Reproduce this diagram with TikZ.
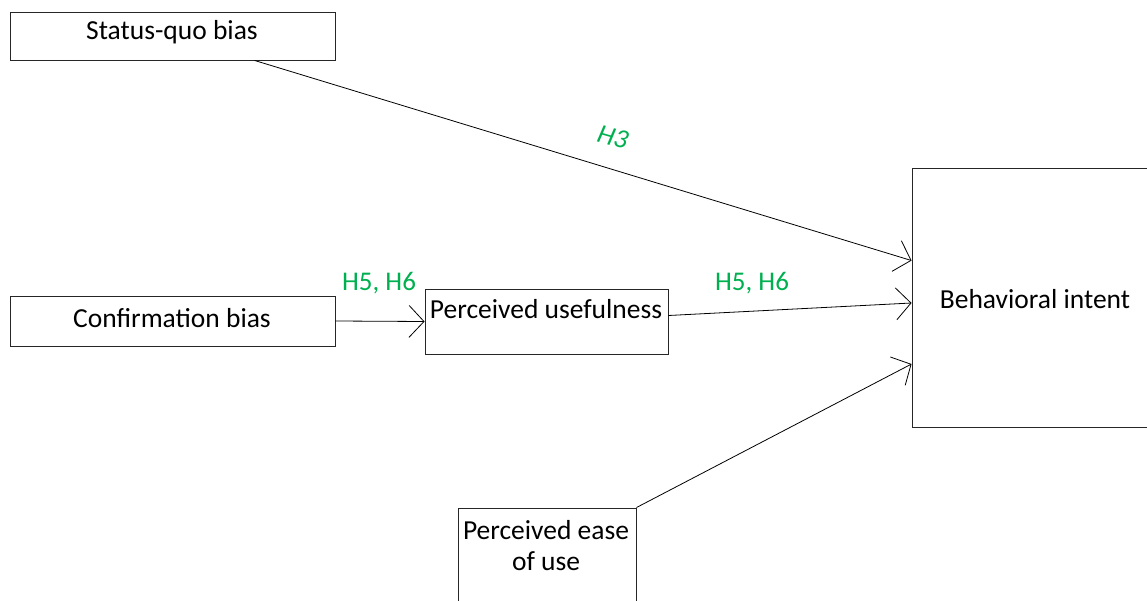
\documentclass[tikz,border=0pt]{standalone}
\usepackage{fontspec}
\setmainfont{Carlito}
\usetikzlibrary{arrows.meta,calc}
\definecolor{hypgreen}{HTML}{00B050}
\begin{document}
\begin{tikzpicture}[x=1pt,y=-1pt,
  box/.style={draw=black!85,line width=0.9pt,rectangle,inner sep=0pt},
  lbl/.style={font=\fontsize{27.5}{31}\selectfont,inner sep=0pt,align=center},
  hyp/.style={font=\fontsize{27}{31}\selectfont,text=hypgreen,inner sep=0pt},
  link/.style={draw=black,line width=0.8pt,-{Straight Barb[length=15pt,width=32pt,line width=0.8pt]}}]
\useasboundingbox (0,0) rectangle (1147,601);
% boxes
\node[box,minimum width=325pt,minimum height=48pt] (sq) at (172.5,36) {};
\node[box,minimum width=325pt,minimum height=50pt] (cb) at (172.5,321) {};
\node[box,minimum width=243pt,minimum height=65pt] (pu) at (546.5,321.5) {};
\node[box,minimum width=248pt,minimum height=259pt] (bi) at (1036,297.5) {};
\node[box,minimum width=178pt,minimum height=112pt] (peou) at (547,564) {};
% box texts
\node[lbl] (sqt) at (172,32) {Status-quo bias};
\node[lbl] (cbt) at (172,318) {Confirmation bias};
\node[lbl] (put) at (546,309) {Perceived usefulness};
\node[lbl] (bit) at (1035,299) {Behavioral intent};
\node[lbl] (peout) at (546,546) {Perceived ease\\of use};
% connectors
\draw[link] ($(sq.south west)+(245,0)$) -- ($(bi.north west)+(0,93)$);
\draw[link] (cb.east) -- (pu.west);
\draw[link] ($(pu.east)+(0,-6)$) -- ($(bi.west)+(0,5.5)$);
\draw[link] (peou.north east) -- ($(bi.west)+(0,66.5)$);
% hypothesis labels
\node[hyp,rotate=-16,font=\fontsize{27}{31}\selectfont\itshape] (h3) at (613,137) {H3};
\node[hyp] (h56a) at (379,283) {H5, H6};
\node[hyp] (h56b) at (752,283) {H5, H6};
\end{tikzpicture}
\end{document}
